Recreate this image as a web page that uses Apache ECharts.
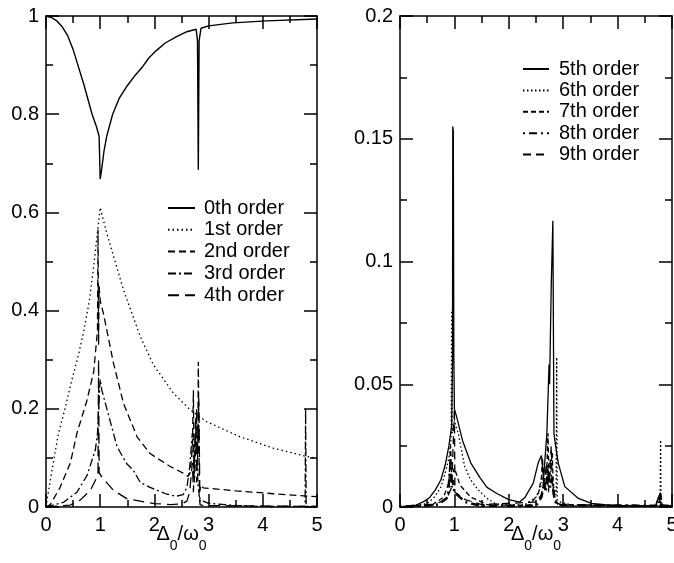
<!DOCTYPE html>
<html>
<head>
<meta charset="utf-8">
<script src="https://cdn.jsdelivr.net/npm/echarts@6/dist/echarts.min.js"></script>
<style>html,body{margin:0;padding:0;background:#fff}#c{width:674px;height:563px}</style>
</head>
<body>
<div id="c"></div>
<script>
// ---- Left panel: orders 0-4 ----
const leftNames = ['0th order', '1st order', '2nd order', '3rd order', '4th order'];
const order0 = [[0,1],[0.1,0.997],[0.2,0.99],[0.3,0.978],[0.4,0.96],[0.5,0.932],[0.58,0.903],[0.7,0.86],[0.85,0.8],[0.93,0.775],[0.98,0.755],[1.0,0.668],[1.03,0.69],[1.07,0.725],[1.12,0.755],[1.23,0.8],[1.35,0.832],[1.5,0.858],[1.65,0.88],[1.77,0.895],[1.9,0.915],[2.04,0.93],[2.2,0.945],[2.41,0.958],[2.6,0.968],[2.77,0.973],[2.795,0.95],[2.81,0.687],[2.825,0.95],[2.86,0.975],[3.0,0.98],[3.45,0.986],[4.07,0.99],[5,0.994]];
const order1 = [[0,0],[0.02,0.015],[0.08,0.055],[0.15,0.1],[0.23,0.15],[0.35,0.2],[0.48,0.26],[0.6,0.31],[0.7,0.36],[0.8,0.42],[0.88,0.49],[0.94,0.55],[1.0,0.61],[1.12,0.558],[1.43,0.442],[1.74,0.347],[1.98,0.29],[2.35,0.232],[2.66,0.198],[2.96,0.174],[3.58,0.143],[4.19,0.12],[4.8,0.103],[5,0.099]];
const order2 = [[0,0],[0.08,0.005],[0.26,0.04],[0.45,0.09],[0.57,0.15],[0.75,0.215],[0.88,0.275],[0.95,0.36],[0.96,0.565],[0.97,0.33],[0.98,0.45],[1.0,0.42],[1.06,0.394],[1.245,0.293],[1.43,0.211],[1.68,0.143],[1.92,0.109],[2.1,0.096],[2.3,0.082],[2.53,0.069],[2.62,0.062],[2.66,0.07],[2.7,0.12],[2.72,0.238],[2.73,0.08],[2.76,0.15],[2.8,0.1],[2.81,0.296],[2.83,0.03],[2.86,0.045],[2.9,0.039],[3.5,0.033],[4.2,0.027],[4.99,0.021]];
const order3 = [[0,0],[0.33,0.01],[0.57,0.03],[0.76,0.065],[0.91,0.116],[0.95,0.15],[0.97,0.2],[1.0,0.26],[1.03,0.238],[1.245,0.15],[1.31,0.123],[1.49,0.088],[1.61,0.075],[1.74,0.05],[1.92,0.04],[2.23,0.026],[2.4,0.022],[2.53,0.025],[2.6,0.04],[2.65,0.08],[2.7,0.15],[2.74,0.05],[2.78,0.2],[2.8,0.05],[2.84,0.01],[2.9,0.012],[3.0,0.0075],[3.5,0.003],[4.0,0.001],[4.78,0.001],[4.79,0.2],[4.8,0.001],[5,0.001]];
const order4 = [[0,0],[0.45,0.004],[0.63,0.014],[0.82,0.034],[0.94,0.061],[0.96,0.07],[0.97,0.3],[0.98,0.07],[1.0,0.072],[1.03,0.061],[1.245,0.034],[1.49,0.017],[1.74,0.012],[2.0,0.007],[2.3,0.005],[2.5,0.006],[2.6,0.012],[2.65,0.03],[2.7,0.09],[2.72,0.03],[2.76,0.18],[2.78,0.05],[2.82,0.22],[2.84,0.005],[2.9,0.003],[5,0.001]];

// ---- Right panel: orders 5-9 ----
const rightNames = ['5th order', '6th order', '7th order', '8th order', '9th order'];
const order5 = [[0,0],[0.3,0.0008],[0.46,0.0025],[0.55,0.004],[0.65,0.007],[0.75,0.011],[0.83,0.017],[0.9,0.025],[0.95,0.033],[0.965,0.06],[0.97,0.155],[0.98,0.153],[0.99,0.06],[1.0,0.04],[1.05,0.036],[1.15,0.027],[1.3,0.018],[1.47,0.012],[1.6,0.008],[1.78,0.0055],[2.0,0.003],[2.2,0.002],[2.3,0.004],[2.45,0.0097],[2.54,0.018],[2.6,0.021],[2.64,0.012],[2.7,0.03],[2.74,0.058],[2.75,0.05],[2.78,0.09],[2.81,0.1166],[2.83,0.03],[2.86,0.025],[2.91,0.0178],[3.03,0.0083],[3.28,0.0035],[3.52,0.0015],[4,0.0005],[4.7,0.0005],[4.75,0.004],[4.8,0.001],[5,0.0005]];
const order6 = [[0,0],[0.5,0.0014],[0.64,0.0042],[0.75,0.008],[0.83,0.0137],[0.9,0.02],[0.94,0.028],[0.95,0.08],[0.96,0.03],[1.0,0.035],[1.07,0.03],[1.19,0.0164],[1.3,0.011],[1.44,0.0069],[1.6,0.0035],[1.75,0.0014],[2.0,0.0008],[2.3,0.001],[2.5,0.004],[2.6,0.009],[2.65,0.015],[2.7,0.012],[2.75,0.018],[2.8,0.01],[2.87,0.005],[2.88,0.061],[2.89,0.003],[2.95,0.002],[3.2,0.0005],[4.78,0.0005],[4.79,0.0273],[4.8,0.0005],[5,0.0003]];
const order7 = [[0,0],[0.6,0.001],[0.8,0.004],[0.9,0.01],[0.93,0.025],[0.95,0.012],[1.0,0.016],[1.1,0.009],[1.3,0.004],[1.6,0.001],[2.3,0.0005],[2.4,0.001],[2.55,0.006],[2.6,0.012],[2.62,0.02],[2.64,0.008],[2.7,0.016],[2.72,0.03],[2.74,0.01],[2.8,0.022],[2.82,0.005],[2.9,0.001],[4.7,0.0005],[4.79,0.006],[4.82,0.0005],[5,0.0003]];
const order8 = [[0,0],[0.7,0.001],[0.88,0.004],[0.93,0.018],[0.95,0.008],[0.97,0.011],[1.0,0.006],[1.2,0.002],[1.5,0.0005],[2.5,0.0005],[2.6,0.004],[2.65,0.01],[2.68,0.006],[2.72,0.015],[2.76,0.008],[2.8,0.012],[2.84,0.003],[2.9,0.0008],[4.76,0.0005],[4.78,0.005],[4.8,0.0005],[5,0.0003]];
const order9 = [[0,0],[0.6,0.0008],[0.85,0.003],[0.95,0.008],[1.0,0.04],[1.01,0.006],[1.2,0.003],[1.5,0.001],[2.5,0.002],[2.6,0.005],[2.7,0.018],[2.73,0.006],[2.78,0.025],[2.8,0.008],[2.85,0.002],[3.0,0.0005],[5,0.0003]];

const FONT = "'Liberation Sans', Arial, Helvetica, sans-serif";
const BLACK = '#000';

function xAxisBase(gridIndex, pos, showLabel) {
  return {
    type: 'value', gridIndex: gridIndex, position: pos, min: 0, max: 5, interval: 1,
    axisLine: { show: true, onZero: false, lineStyle: { color: BLACK, width: 1.5 } },
    axisTick: { show: true, inside: true, length: 13, lineStyle: { color: BLACK, width: 1.5 } },
    minorTick: { show: true, splitNumber: 2, length: 7, lineStyle: { color: BLACK, width: 1.5 } },
    splitLine: { show: false },
    axisLabel: { show: showLabel, color: BLACK, fontSize: 20, fontFamily: FONT, margin: 8 },
    name: showLabel ? '{d|Δ}{s|0}{d|/ω}{s|0}' : '',
    nameLocation: 'middle', nameGap: 17, nameMoveOverlap: false,
    nameTextStyle: {
      color: BLACK, fontFamily: FONT,
      rich: {
        d: { fontSize: 20, lineHeight: 20, fontFamily: FONT, color: BLACK },
        s: { fontSize: 14, lineHeight: 14, padding: [24, 0, 0, 0], fontFamily: FONT, color: BLACK }
      }
    }
  };
}
function yAxisBase(gridIndex, pos, showLabel, max, interval) {
  return {
    type: 'value', gridIndex: gridIndex, position: pos, min: 0, max: max, interval: interval,
    axisLine: { show: true, onZero: false, lineStyle: { color: BLACK, width: 1.5 } },
    axisTick: { show: true, inside: true, length: 13, lineStyle: { color: BLACK, width: 1.5 } },
    minorTick: { show: true, splitNumber: 2, length: 7, lineStyle: { color: BLACK, width: 1.5 } },
    splitLine: { show: false },
    axisLabel: { show: showLabel, color: BLACK, fontSize: 20, fontFamily: FONT, margin: 7 }
  };
}
function mkSeries(name, data, xi, yi, dash, width) {
  return {
    name: name, type: 'line', data: data, xAxisIndex: xi, yAxisIndex: yi,
    showSymbol: false, symbol: 'none', animation: false, clip: true,
    lineStyle: { color: BLACK, width: width, type: dash },
    itemStyle: { color: BLACK },
    emphasis: { disabled: true }
  };
}

const legendCommon = {
  orient: 'vertical', itemHeight: 14, selectedMode: false,
  itemStyle: { color: 'rgba(0,0,0,0)', borderWidth: 0, opacity: 0 },
  textStyle: { color: BLACK, fontSize: 20, fontFamily: FONT, lineHeight: 20 }
};

const chart = echarts.init(document.getElementById('c'), null, { renderer: 'canvas' });
chart.setOption({
  backgroundColor: '#fff',
  animation: false,
  grid: [
    { left: 46, right: 357, top: 16, bottom: 56, outerBoundsMode: 'none' },
    { left: 400, right: 2, top: 16, bottom: 56, outerBoundsMode: 'none' }
  ],
  xAxis: [
    xAxisBase(0, 'bottom', true),
    xAxisBase(0, 'top', false),
    xAxisBase(1, 'bottom', true),
    xAxisBase(1, 'top', false)
  ],
  yAxis: [
    yAxisBase(0, 'left', true, 1, 0.2),
    yAxisBase(0, 'right', false, 1, 0.2),
    yAxisBase(1, 'left', true, 0.2, 0.05),
    yAxisBase(1, 'right', false, 0.2, 0.05)
  ],
  legend: [
    Object.assign({}, legendCommon, {
      data: leftNames, left: 162, top: 193, itemWidth: 27, itemGap: 1.8,
      textStyle: Object.assign({}, legendCommon.textStyle, { padding: [0, 0, 0, 4] })
    }),
    Object.assign({}, legendCommon, {
      data: rightNames, left: 517, top: 54, itemWidth: 26, itemGap: 1.4,
      textStyle: Object.assign({}, legendCommon.textStyle, { padding: [0, 0, 0, 5] })
    })
  ],
  series: [
    mkSeries(leftNames[0], order0, 0, 0, 'solid', 1.4),
    mkSeries(leftNames[1], order1, 0, 0, [1.5, 3], 1.3),
    mkSeries(leftNames[2], order2, 0, 0, [7, 4], 1.3),
    mkSeries(leftNames[3], order3, 0, 0, [8, 3, 2, 3], 1.3),
    mkSeries(leftNames[4], order4, 0, 0, [11, 6], 1.3),
    mkSeries(rightNames[0], order5, 2, 2, 'solid', 1.3),
    mkSeries(rightNames[1], order6, 2, 2, [1.5, 2.5], 1.3),
    mkSeries(rightNames[2], order7, 2, 2, [5, 3], 1.3),
    mkSeries(rightNames[3], order8, 2, 2, [2, 4, 8, 4], 2.5),
    mkSeries(rightNames[4], order9, 2, 2, [8, 5], 1.3)
  ]
});
</script>
</body>
</html>
